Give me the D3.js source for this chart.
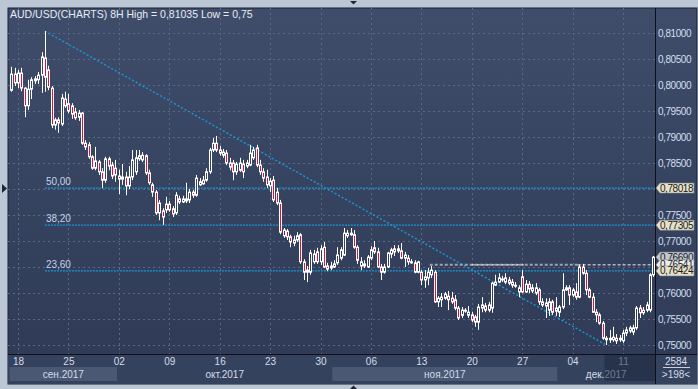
<!DOCTYPE html>
<html>
<head>
<meta charset="utf-8">
<script src="https://cdn.jsdelivr.net/npm/d3@7"></script>
<style>
  body { margin: 0; background: #bcc7d6; }
  svg { display: block; font-family: "Liberation Sans", Arial, sans-serif; }
</style>
</head>
<body>
<div id="chart"></div>
<script>
// AUD/USD 8H candles (index 0 = last bars of Sep 15)
const opens = [
  .7990,.8021,.8004,.8023,.7994,.7960,.7992,.8008,.8010,.8019,
  .8052,.8029,.7994,.7923,.7933,.7925,.7973,.7964,.7960,.7948,
  .7938,.7946,.7888,.7885,.7862,.7840,.7852,.7833,.7817,.7858,
  .7846,.7840,.7825,.7819,.7823,.7806,.7823,.7833,.7858,.7856,
  .7864,.7831,.7808,.7794,.7754,.7758,.7760,.7771,.7762,.7754,
  .7781,.7775,.7777,.7779,.7794,.7788,.7808,.7817,.7817,.7833,
  .7875,.7888,.7875,.7865,.7869,.7850,.7850,.7833,.7836,.7848,
  .7844,.7846,.7860,.7879,.7846,.7833,.7823,.7806,.7817,.7794,
  .7773,.7710,.7719,.7708,.7696,.7702,.7712,.7660,.7640,.7640,
  .7660,.7679,.7660,.7688,.7652,.7648,.7650,.7658,.7667,.7673,
  .7710,.7712,.7712,.7688,.7652,.7652,.7650,.7667,.7687,.7679,
  .7650,.7640,.7650,.7675,.7685,.7681,.7681,.7667,.7667,.7658,
  .7658,.7640,.7640,.7625,.7629,.7635,.7640,.7583,.7587,.7590,
  .7594,.7590,.7587,.7571,.7557,.7565,.7557,.7558,.7554,.7544,
  .7571,.7575,.7567,.7571,.7615,.7621,.7625,.7621,.7625,.7621,
  .7614,.7602,.7631,.7602,.7617,.7610,.7600,.7606,.7583,.7575,
  .7567,.7583,.7565,.7563,.7573,.7606,.7610,.7596,.7602,.7592,
  .7650,.7638,.7606,.7592,.7563,.7558,.7542,.7510,.7513,.7510,
  .7513,.7510,.7508,.7523,.7527,.7525,.7533,.7571,.7562,.7567,
  .7567,.7635
];
const highs = [
  .8035,.8033,.8029,.8033,.7996,.8010,.8015,.8017,.8025,.8063,
  .81035,.8037,.7998,.7937,.7938,.7983,.7987,.7983,.7965,.7956,
  .7952,.7948,.7894,.7890,.7865,.7881,.7856,.7840,.7862,.7862,
  .7852,.7856,.7837,.7848,.7833,.7844,.7875,.7875,.7875,.7871,
  .7867,.7837,.7812,.7798,.7779,.7763,.7785,.7777,.7767,.7794,
  .7787,.7787,.7812,.7800,.7798,.7827,.7821,.7825,.7840,.7879,
  .7898,.7902,.7883,.7877,.7875,.7860,.7856,.7852,.7860,.7856,
  .7856,.7885,.7881,.7885,.7856,.7840,.7837,.7821,.7825,.7802,
  .7779,.7725,.7723,.7712,.7710,.7717,.7715,.7665,.7652,.7683,
  .7683,.7687,.7692,.7698,.7658,.7660,.7663,.7688,.7688,.7725,
  .7721,.7725,.7721,.7692,.7669,.7663,.7673,.7690,.7700,.7687,
  .7656,.7656,.7679,.7687,.7692,.7692,.7696,.7679,.7673,.7665,
  .7663,.7662,.7644,.7644,.7648,.7652,.7644,.7594,.7600,.7602,
  .7604,.7602,.7596,.7575,.7573,.7571,.7575,.7564,.7558,.7579,
  .7592,.7581,.7583,.7621,.7635,.7638,.7633,.7638,.7631,.7627,
  .7621,.7615,.7644,.7625,.7623,.7617,.7619,.7610,.7590,.7590,
  .7590,.7587,.7592,.7577,.7638,.7615,.7615,.7610,.7619,.7654,
  .7656,.7644,.7610,.7600,.7569,.7562,.7546,.7517,.7529,.7535,
  .7521,.7519,.7529,.7535,.7537,.7539,.7575,.7577,.7573,.7583,
  .7638,.7671
];
const lows = [
  .7987,.7998,.7994,.7988,.7938,.7952,.7973,.8002,.8002,.7985,
  .7987,.7990,.7917,.7914,.7908,.7921,.7956,.7946,.7935,.7933,
  .7931,.7885,.7875,.7858,.7837,.7836,.7827,.7802,.7812,.7836,
  .7819,.7814,.7790,.7808,.7788,.7800,.7817,.7827,.7854,.7852,
  .7827,.7808,.7785,.7750,.7740,.7731,.7754,.7756,.7746,.7750,
  .7771,.7773,.7773,.7773,.7783,.7785,.7806,.7808,.7814,.7829,
  .7871,.7871,.7864,.7860,.7846,.7836,.7817,.7827,.7833,.7821,
  .7840,.7844,.7856,.7842,.7827,.7814,.7802,.7794,.7775,.7769,
  .7713,.7706,.7702,.7688,.7690,.7698,.7656,.7625,.7621,.7635,
  .7656,.7656,.7654,.7648,.7642,.7644,.7648,.7654,.7663,.7671,
  .7706,.7710,.7685,.7656,.7644,.7648,.7648,.7663,.7675,.7648,
  .7625,.7637,.7648,.7667,.7671,.7677,.7665,.7650,.7654,.7656,
  .7638,.7638,.7615,.7610,.7615,.7629,.7581,.7573,.7573,.7587,
  .7567,.7579,.7567,.7548,.7552,.7562,.7552,.7544,.7535,.7529,
  .7563,.7563,.7563,.7562,.7614,.7619,.7621,.7617,.7615,.7610,
  .7610,.7592,.7600,.7600,.7600,.7600,.7596,.7577,.7573,.7552,
  .7556,.7558,.7556,.7554,.7569,.7604,.7577,.7592,.7587,.7590,
  .7635,.7596,.7590,.7562,.7544,.7539,.7510,.7500,.7504,.7506,
  .7502,.7506,.7504,.7517,.7523,.7519,.7529,.7552,.7558,.7563,
  .7563,.7631
];
const closes = [
  .8021,.8004,.8023,.7994,.7960,.7992,.8010,.8012,.8019,.8054,
  .8015,.7996,.7923,.7933,.7927,.7975,.7960,.7950,.7944,.7937,
  .7946,.7888,.7881,.7862,.7840,.7854,.7833,.7817,.7858,.7844,
  .7825,.7827,.7819,.7823,.7806,.7823,.7856,.7860,.7864,.7865,
  .7831,.7812,.7794,.7754,.7773,.7746,.7771,.7760,.7752,.7788,
  .7775,.7781,.7781,.7794,.7788,.7821,.7814,.7810,.7833,.7875,
  .7888,.7875,.7869,.7871,.7850,.7842,.7833,.7848,.7850,.7833,
  .7850,.7869,.7875,.7846,.7833,.7821,.7808,.7815,.7779,.7773,
  .7717,.7721,.7708,.7698,.7702,.7710,.7660,.7640,.7644,.7677,
  .7675,.7660,.7685,.7650,.7646,.7652,.7656,.7673,.7683,.7715,
  .7715,.7715,.7688,.7663,.7660,.7656,.7669,.7683,.7679,.7650,
  .7640,.7650,.7677,.7683,.7679,.7685,.7667,.7673,.7660,.7660,
  .7640,.7660,.7625,.7631,.7640,.7644,.7583,.7590,.7592,.7598,
  .7587,.7583,.7571,.7552,.7567,.7567,.7563,.7548,.7544,.7573,
  .7577,.7567,.7577,.7619,.7621,.7629,.7627,.7629,.7619,.7615,
  .7615,.7610,.7602,.7617,.7608,.7604,.7610,.7583,.7577,.7581,
  .7583,.7563,.7571,.7573,.7606,.7610,.7596,.7606,.7592,.7650,
  .7638,.7606,.7592,.7563,.7558,.7542,.7513,.7513,.7510,.7515,
  .7508,.7513,.7523,.7529,.7533,.7533,.7571,.7562,.7567,.7577,
  .7635,.7669
];

// bottom axis: Monday labels and the bar index where each week starts
const dayLabels = ["18", "25", "02", "09", "16", "23", "30", "06", "13", "20", "27", "04", "11"];
const dayIndex = [2, 17, 32, 47, 62, 77, 92, 107, 122, 137, 152, 167, 182];

// month strip
const monthNames = ["сен.2017", "окт.2017", "ноя.2017", "дек.2017"];
const monthFrom = [-0.5, 31.5, 95.5, 162.5];
const monthTo = [31.5, 95.5, 162.5, 192];

// price axis ticks
const priceTicks = [0.75, 0.755, 0.76, 0.765, 0.77, 0.775, 0.78, 0.785, 0.79, 0.795, 0.80, 0.805, 0.81];

// fibonacci retracement
const fibNames = ["50,00", "38,20", "23,60"];
const fibValues = [0.78018, 0.77305, 0.76424];

// trend line from the high to the low
const trendIdx = [10, 177];
const trendVal = [0.81035, 0.75];

// right-hand price markers
const markValues = [0.78018, 0.77305, 0.76690, 0.76541, 0.76424];
const markFills = ["#e6e2c8", "#e6e2c8", "#c3c7cf", "#ececec", "#e6e2c8"];

const title = "AUD/USD(CHARTS) 8H High = 0,81035 Low = 0,75";

const W = 698, H = 389;
const plotLeft = 8, plotTop = 8, plotRight = 655, plotBottom = 354;

const x = d3.scaleLinear().domain([2, 182]).range([18, 623]);
const y = d3.scaleLinear().domain([0.75, 0.81]).range([345, 33]);
const fmt = d => d3.format(".5f")(d).replace(".", ",");

const svg = d3.select("#chart").append("svg")
  .attr("width", W).attr("height", H);

const defs = svg.append("defs");
const grad = defs.append("linearGradient").attr("id", "bg")
  .attr("gradientUnits", "userSpaceOnUse")
  .attr("x1", 0).attr("y1", plotTop).attr("x2", 0).attr("y2", plotBottom);
grad.append("stop").attr("offset", 0).attr("stop-color", "#3f4d6a");
grad.append("stop").attr("offset", 1).attr("stop-color", "#2f3b57");
defs.append("clipPath").attr("id", "plotClip").append("rect")
  .attr("x", plotLeft).attr("y", plotTop)
  .attr("width", plotRight - plotLeft).attr("height", plotBottom - plotTop);

// frame + panels
svg.append("rect").attr("width", W).attr("height", H).attr("fill", "#bcc7d6");
svg.append("rect").attr("x", plotLeft).attr("y", plotTop).attr("width", 689).attr("height", 376)
  .attr("fill", "url(#bg)").attr("stroke", "#1b2232");
svg.append("rect").attr("x", plotLeft).attr("y", plotBottom).attr("width", 689).attr("height", 30)
  .attr("fill", "#35425e");

// little arrows on the frame
svg.append("path").attr("d", "M350,1 L357,1 L353.5,4.5 Z").attr("fill", "#1e2636");
svg.append("path").attr("d", "M2,184 L7,188.5 L2,193 Z").attr("fill", "#1e2636");
svg.append("path").attr("d", "M350,389 L357,389 L353.5,385.5 Z").attr("fill", "#1e2636");

// grid
const grid = svg.append("g").attr("stroke", "#5b6884").attr("stroke-dasharray", "2,3").attr("stroke-width", 1);
grid.selectAll("line.h").data(priceTicks).enter().append("line")
  .attr("x1", plotLeft).attr("x2", plotRight)
  .attr("y1", d => Math.round(y(d)) + 0.5).attr("y2", d => Math.round(y(d)) + 0.5);
grid.selectAll("line.v").data(dayIndex).enter().append("line")
  .attr("y1", plotTop).attr("y2", plotBottom)
  .attr("x1", d => Math.round(x(d)) + 0.5).attr("x2", d => Math.round(x(d)) + 0.5);

const plot = svg.append("g").attr("clip-path", "url(#plotClip)");

// fibonacci levels
plot.selectAll("line.fib").data(fibValues).enter().append("line")
  .attr("x1", x(trendIdx[0])).attr("x2", plotRight)
  .attr("y1", d => y(d)).attr("y2", d => y(d))
  .attr("stroke", "#1898d8").attr("stroke-width", 1.3).attr("stroke-dasharray", "2,1");

// trend line
plot.append("line")
  .attr("x1", x(trendIdx[0])).attr("y1", y(trendVal[0]))
  .attr("x2", x(trendIdx[1])).attr("y2", y(trendVal[1]))
  .attr("stroke", "#1898d8").attr("stroke-width", 1.4).attr("stroke-dasharray", "2,2");

// dashed marker line at 0,76541
plot.append("line")
  .attr("x1", x(124.5)).attr("x2", x(168.5))
  .attr("y1", y(markValues[3])).attr("y2", y(markValues[3]))
  .attr("stroke", "#9aa3b4").attr("stroke-width", 2).attr("stroke-dasharray", "3,2");
[[137, 152.5], [168.5, 192]].forEach(s => {
  plot.append("line")
    .attr("x1", x(s[0])).attr("x2", Math.min(x(s[1]), plotRight))
    .attr("y1", y(markValues[3])).attr("y2", y(markValues[3]))
    .attr("stroke", "#f2f2f2").attr("stroke-width", 1).attr("stroke-dasharray", "3,2");
});

// candles
const bars = d3.range(closes.length).map(i => ({
  i, o: opens[i], h: highs[i], l: lows[i], c: closes[i]
}));
const candle = plot.selectAll("g.candle").data(bars).enter().append("g");
candle.append("line")
  .attr("x1", d => Math.round(x(d.i)) + 0.5).attr("x2", d => Math.round(x(d.i)) + 0.5)
  .attr("y1", d => y(d.h)).attr("y2", d => y(d.l))
  .attr("stroke", "#ffffff").attr("stroke-width", 1);
candle.append("rect")
  .attr("x", d => Math.round(x(d.i)) - 0.5)
  .attr("width", 2)
  .attr("y", d => y(Math.max(d.o, d.c)))
  .attr("height", d => Math.max(1, Math.abs(y(d.o) - y(d.c))))
  .attr("fill", d => d.c >= d.o ? "url(#bg)" : "#e0103c")
  .attr("stroke", "#ffffff").attr("stroke-width", 1);

// fib labels
svg.selectAll("text.fib").data(fibValues).enter().append("text")
  .attr("x", x(trendIdx[0]) + 1).attr("y", d => y(d) - 3)
  .attr("font-size", 10).attr("fill", "#c4d2ea")
  .text((d, i) => fibNames[i]);

// title
svg.append("text").attr("x", 10).attr("y", 18)
  .attr("font-size", 10.5).attr("fill", "#e6ecf5")
  .text(title);

// separators
svg.append("line").attr("x1", plotLeft).attr("x2", 697)
  .attr("y1", plotBottom + 0.5).attr("y2", plotBottom + 0.5)
  .attr("stroke", "#0d1018");
svg.append("line").attr("x1", plotRight + 0.5).attr("x2", plotRight + 0.5)
  .attr("y1", plotTop).attr("y2", 384)
  .attr("stroke", "#0d1018");

// price axis (ticks hidden under a marker box are not drawn, as in the original)
const shownTicks = priceTicks.filter(t => markValues.every(m => Math.abs(y(m) - y(t)) > 7));
const yAxis = svg.append("g").attr("transform", `translate(${plotRight},0)`)
  .call(d3.axisRight(y).tickValues(shownTicks).tickFormat(fmt).tickSize(0).tickPadding(3));
yAxis.select(".domain").remove();
yAxis.selectAll("text").attr("fill", "#d4def0").attr("font-size", 10)
  .attr("letter-spacing", "-0.45px")
  .attr("font-family", "Liberation Sans, Arial, sans-serif");

// date axis
const xAxis = svg.append("g").attr("transform", `translate(0,${plotBottom})`)
  .call(d3.axisBottom(x).tickValues(dayIndex).tickFormat((d, i) => dayLabels[i]).tickSize(0).tickPadding(4));
xAxis.select(".domain").remove();
xAxis.selectAll("text").attr("fill", "#d4dbe8").attr("font-size", 10)
  .attr("font-family", "Liberation Sans, Arial, sans-serif");

// month strip
const months = svg.append("g");
months.selectAll("rect").data(monthNames).enter().append("rect")
  .attr("x", (d, i) => x(monthFrom[i]))
  .attr("width", (d, i) => Math.min(x(monthTo[i]), plotRight) - x(monthFrom[i]))
  .attr("y", 367).attr("height", 14)
  .attr("fill", (d, i) => i % 2 === 0 ? "#4a5874" : "#35425e");
months.selectAll("text").data(monthNames).enter().append("text")
  .attr("x", (d, i) => (x(monthFrom[i]) + Math.min(x(monthTo[i]), plotRight)) / 2)
  .attr("y", 378).attr("text-anchor", "middle")
  .attr("font-size", 10).attr("fill", "#d4dbe8")
  .text(d => d);

// current-week highlight
svg.append("rect").attr("x", x(176.5)).attr("y", plotBottom + 1)
  .attr("width", plotRight - x(176.5)).attr("height", 26)
  .attr("fill", "#1c263c").attr("opacity", 0.55);

// bar counter
svg.append("text").attr("x", 676).attr("y", 365).attr("text-anchor", "middle")
  .attr("font-size", 10).attr("fill", "#d4dbe8").text("2584");
svg.append("line").attr("x1", 663).attr("x2", 690).attr("y1", 367.5).attr("y2", 367.5)
  .attr("stroke", "#c8d0dc");
svg.append("text").attr("x", 676).attr("y", 378).attr("text-anchor", "middle")
  .attr("font-size", 10).attr("fill", "#d4dbe8").text(">198<");

// price marker boxes (they overlap each other in the original too)
const marks = svg.append("g");
markValues.forEach((v, i) => {
  const yy = y(v);
  marks.append("path")
    .attr("d", `M656,${yy} L660,${yy - 5} L694,${yy - 5} L694,${yy + 5} L660,${yy + 5} Z`)
    .attr("fill", markFills[i]).attr("stroke", "#7d8494").attr("stroke-width", 0.6);
  marks.append("text").attr("x", 660).attr("y", yy + 3.5)
    .attr("font-size", 10).attr("letter-spacing", "-0.45px")
    .attr("fill", "#1a1a1a").text(fmt(v));
});
</script>
</body>
</html>
